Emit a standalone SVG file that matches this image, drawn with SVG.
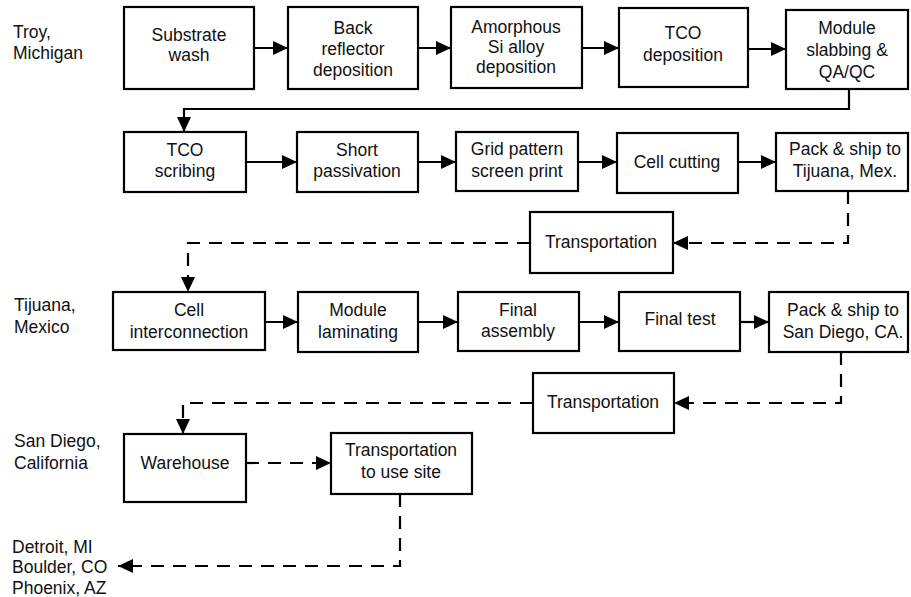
<svg xmlns="http://www.w3.org/2000/svg" width="911" height="597" viewBox="0 0 911 597">
<style>
.box{fill:#fff;stroke:#000;stroke-width:2.2}
.t{font-family:"Liberation Sans",Arial,sans-serif;font-size:17.5px;fill:#111;text-anchor:middle}
.l{font-family:"Liberation Sans",Arial,sans-serif;font-size:17.5px;fill:#111}
.c{fill:none;stroke:#000;stroke-width:2.2}
.d{fill:none;stroke:#000;stroke-width:2.2;stroke-dasharray:13 9}
</style>
<defs>
<marker id="ah" markerUnits="userSpaceOnUse" markerWidth="16" markerHeight="14" refX="15" refY="7" orient="auto">
<path d="M0,0 L15,7 L0,14 z" fill="#000"/>
</marker>
</defs>
<g id="labels">
<text class="l" x="13" y="38">Troy,</text>
<text class="l" x="13" y="59">Michigan</text>
<text class="l" x="14" y="311">Tijuana,</text>
<text class="l" x="14" y="333">Mexico</text>
<text class="l" x="14" y="447">San Diego,</text>
<text class="l" x="14" y="469">California</text>
<text class="l" x="12" y="553">Detroit, MI</text>
<text class="l" x="12" y="573">Boulder, CO</text>
<text class="l" x="12" y="594">Phoenix, AZ</text>
</g>
<g id="connectors">
<line class="c" x1="254" y1="48" x2="288" y2="48" marker-end="url(#ah)"/>
<line class="c" x1="418" y1="48" x2="451" y2="48" marker-end="url(#ah)"/>
<line class="c" x1="582" y1="48" x2="619" y2="48" marker-end="url(#ah)"/>
<line class="c" x1="748" y1="49" x2="786" y2="49" marker-end="url(#ah)"/>
<polyline class="c" points="849,89 849,109 184,109 184,132" marker-end="url(#ah)"/>
<line class="c" x1="246" y1="162" x2="297" y2="162" marker-end="url(#ah)"/>
<line class="c" x1="418" y1="162" x2="456" y2="162" marker-end="url(#ah)"/>
<line class="c" x1="578" y1="162" x2="617" y2="162" marker-end="url(#ah)"/>
<line class="c" x1="738" y1="162" x2="776" y2="162" marker-end="url(#ah)"/>
<polyline class="d" points="848,191 848,243 673,243" marker-end="url(#ah)"/>
<polyline class="d" points="530,243 188,243 188,292" marker-end="url(#ah)"/>
<line class="c" x1="265" y1="322" x2="298" y2="322" marker-end="url(#ah)"/>
<line class="c" x1="418" y1="322" x2="458" y2="322" marker-end="url(#ah)"/>
<line class="c" x1="579" y1="322" x2="619" y2="322" marker-end="url(#ah)"/>
<line class="c" x1="740" y1="322" x2="769" y2="322" marker-end="url(#ah)"/>
<polyline class="d" points="841,352 841,403 674,403" marker-end="url(#ah)"/>
<polyline class="d" points="533,403 183,403 183,434" marker-end="url(#ah)"/>
<line class="d" x1="246" y1="463" x2="331" y2="463" marker-end="url(#ah)"/>
<polyline class="d" points="400,494 400,566 118,566" marker-end="url(#ah)"/>
</g>
<g id="substrate-wash"><rect class="box" x="124" y="7" width="130" height="82"/><text class="t" x="189" y="41">Substrate</text><text class="t" x="189" y="61">wash</text></g>
<g id="back-reflector"><rect class="box" x="288" y="7" width="130" height="82"/><text class="t" x="353" y="34">Back</text><text class="t" x="353" y="55">reflector</text><text class="t" x="353" y="76">deposition</text></g>
<g id="amorphous"><rect class="box" x="451" y="7" width="131" height="81"/><text class="t" x="516" y="33">Amorphous</text><text class="t" x="516" y="53">Si alloy</text><text class="t" x="516" y="73">deposition</text></g>
<g id="tco-deposition"><rect class="box" x="619" y="8" width="129" height="79"/><text class="t" x="683" y="39">TCO</text><text class="t" x="683" y="61">deposition</text></g>
<g id="module-slabbing"><rect class="box" x="786" y="10" width="122" height="79"/><text class="t" x="847" y="34">Module</text><text class="t" x="847" y="56">slabbing &amp;</text><text class="t" x="847" y="78">QA/QC</text></g>
<g id="tco-scribing"><rect class="box" x="124" y="132" width="122" height="60"/><text class="t" x="185" y="156">TCO</text><text class="t" x="185" y="177">scribing</text></g>
<g id="short-passivation"><rect class="box" x="297" y="132" width="121" height="60"/><text class="t" x="357" y="156">Short</text><text class="t" x="357" y="177">passivation</text></g>
<g id="grid-pattern"><rect class="box" x="456" y="132" width="122" height="59"/><text class="t" x="517" y="155">Grid pattern</text><text class="t" x="517" y="177">screen print</text></g>
<g id="cell-cutting"><rect class="box" x="617" y="133" width="121" height="60"/><text class="t" x="677" y="168">Cell cutting</text></g>
<g id="pack-tijuana"><rect class="box" x="776" y="133" width="132" height="58"/><text class="t" x="845" y="155">Pack &amp; ship to</text><text class="t" x="845" y="177">Tijuana, Mex.</text></g>
<g id="transportation-1"><rect class="box" x="530" y="212" width="143" height="61"/><text class="t" x="601" y="248">Transportation</text></g>
<g id="cell-interconnection"><rect class="box" x="113" y="292" width="152" height="58"/><text class="t" x="189" y="316">Cell</text><text class="t" x="189" y="338">interconnection</text></g>
<g id="module-laminating"><rect class="box" x="298" y="292" width="120" height="60"/><text class="t" x="358" y="316">Module</text><text class="t" x="358" y="338">laminating</text></g>
<g id="final-assembly"><rect class="box" x="458" y="292" width="121" height="59"/><text class="t" x="518" y="316">Final</text><text class="t" x="518" y="337">assembly</text></g>
<g id="final-test"><rect class="box" x="619" y="292" width="121" height="59"/><text class="t" x="680" y="325">Final test</text></g>
<g id="pack-san-diego"><rect class="box" x="769" y="292" width="139" height="60"/><text class="t" x="843" y="316">Pack &amp; ship to</text><text class="t" x="843" y="338">San Diego, CA.</text></g>
<g id="transportation-2"><rect class="box" x="533" y="373" width="141" height="60"/><text class="t" x="603" y="408">Transportation</text></g>
<g id="warehouse"><rect class="box" x="124" y="434" width="122" height="68"/><text class="t" x="185" y="469">Warehouse</text></g>
<g id="transportation-use-site"><rect class="box" x="331" y="433" width="141" height="61"/><text class="t" x="401" y="456">Transportation</text><text class="t" x="401" y="478">to use site</text></g>
</svg>
